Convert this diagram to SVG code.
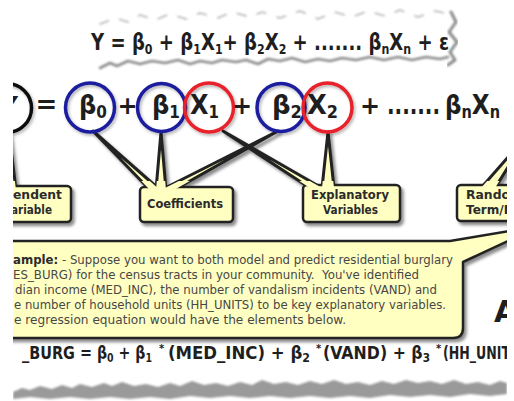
<svg xmlns="http://www.w3.org/2000/svg" width="514" height="401" viewBox="0 0 514 401">
<defs>
  <clipPath id="frame"><rect x="13" y="0" width="494" height="401"/></clipPath>
  <clipPath id="baseclip"><rect x="0" y="181" width="514" height="14"/></clipPath>
  <filter id="shadow" x="-10%" y="-20%" width="130%" height="150%">
    <feDropShadow dx="2.5" dy="3" stdDeviation="1.6" flood-color="#000" flood-opacity="0.45"/>
  </filter>
  <filter id="cshadow" x="-20%" y="-20%" width="150%" height="150%">
    <feDropShadow dx="1.5" dy="2" stdDeviation="1.5" flood-color="#000" flood-opacity="0.3"/>
  </filter>
  <filter id="blur" x="-5%" y="-50%" width="110%" height="200%"><feGaussianBlur stdDeviation="1"/></filter>
</defs>
<style>
  .eq{font-family:"DejaVu Sans",Verdana,sans-serif;font-weight:bold;fill:#1e1e1e}
  .s{font-size:14px}
  .lbl{font-family:"DejaVu Sans",Verdana,sans-serif;font-weight:bold;font-size:13px;fill:#2b2b2b}
  .body{font-family:"DejaVu Sans",Verdana,sans-serif;font-size:12px;fill:#474747}
  .box{fill:#ffffc2;stroke:#222;stroke-width:2.5}
  .wedge{fill:#ffffc2;stroke:#222;stroke-width:3;stroke-linejoin:round}
  .wfill{fill:#ffffc2;stroke:none}
  .blue{fill:none;stroke:#1d1d9e;stroke-width:3.5}
  .red{fill:none;stroke:#e8222a;stroke-width:3.5}
  .black{fill:none;stroke:#111;stroke-width:3.5}
  .torn{fill:none;stroke-linejoin:round;stroke-linecap:round}
</style>
<rect width="514" height="401" fill="#fff"/>
<g clip-path="url(#frame)">
  <!-- top torn strip -->
  <g id="top-strip">
    <path class="torn" filter="url(#blur)" stroke="#b5b5b5" stroke-width="1.6" stroke-dasharray="9 12" d="M100,24 L115,18 L128,22 L140,15 L155,20 L170,14 L186,19 L200,13 L218,18 L232,12 L250,17 L262,12 L280,18 L300,11 L318,19 L335,12 L352,17 L368,11 L385,16 L400,10 L418,17 L435,11 L450,14"/>
    <path class="torn" filter="url(#blur)" stroke="#8a8a8a" stroke-width="3" d="M451,12 L456,22 L449,32 L457,42 L450,52 L455,60 L448,65"/>
    <path class="torn" filter="url(#blur)" stroke="#8c8c8c" stroke-width="2.6" d="M100,68 L110,63 L117,66 L128,61 L140,64 L152,61 L165,63 L178,60 L190,64 L200,61 L212,63 L222,60 L236,62 L246,60 L258,64 L268,59 L280,61 L292,58 L305,62 L318,59 L330,61 L342,58 L356,60 L370,57 L384,60 L398,57 L412,60 L426,57 L440,59 L448,57"/>
    <text class="eq" x="91" y="50" font-size="23" textLength="358" lengthAdjust="spacingAndGlyphs">Y = β<tspan class="s" dy="4">0</tspan><tspan dy="-4"> + β</tspan><tspan class="s" dy="4">1</tspan><tspan dy="-4">X</tspan><tspan class="s" dy="4">1</tspan><tspan dy="-4">+ β</tspan><tspan class="s" dy="4">2</tspan><tspan dy="-4">X</tspan><tspan class="s" dy="4">2</tspan><tspan dy="-4"> + ....... β</tspan><tspan class="s" dy="4">n</tspan><tspan dy="-4">X</tspan><tspan class="s" dy="4">n</tspan><tspan dy="-4"> + ε</tspan></text>
  </g>

  <!-- connectors (callout pointers) -->
  <g id="connectors" filter="url(#shadow)">
    <polygon class="wedge" points="9,133 0,190 16,190"/>
    <polygon class="wedge" points="93,131 150,190 160,190"/>
    <polygon class="wedge" points="161,132 156,190 166,190"/>
    <polygon class="wedge" points="278,131 161,190 174,190"/>
    <polygon class="wedge" points="223,131 310,188 322,188"/>
    <polygon class="wedge" points="328,132 322,188 334,188"/>
    <polygon class="wedge" points="481,188 495,188 530,132"/>
  </g>

  <!-- equation row -->
  <g id="node-Y">
    <circle class="black" cx="7" cy="108" r="24.5" filter="url(#cshadow)"/>
    <text class="eq" x="7" y="118" font-size="30" text-anchor="middle">Y</text>
  </g>
  <text class="eq" x="46.5" y="113" font-size="26" text-anchor="middle">=</text>
  <g id="node-b0">
    <circle class="blue" cx="90" cy="107.5" r="24.5" filter="url(#cshadow)"/>
    <text class="eq" x="79" y="114" font-size="27" textLength="28" lengthAdjust="spacingAndGlyphs">β<tspan font-size="17" dy="4">0</tspan></text>
  </g>
  <text class="eq" x="127.5" y="114" font-size="24" text-anchor="middle">+</text>
  <g id="node-b1">
    <circle class="blue" cx="161.5" cy="107.5" r="24" filter="url(#cshadow)"/>
    <text class="eq" x="152" y="114" font-size="27" textLength="28" lengthAdjust="spacingAndGlyphs">β<tspan font-size="17" dy="4">1</tspan></text>
  </g>
  <g id="node-x1">
    <circle class="red" cx="209" cy="107.5" r="24.5" filter="url(#cshadow)"/>
    <text class="eq" x="190" y="114" font-size="27" textLength="29" lengthAdjust="spacingAndGlyphs">X<tspan font-size="17" dy="4">1</tspan></text>
  </g>
  <text class="eq" x="242" y="114" font-size="24" text-anchor="middle">+</text>
  <g id="node-b2">
    <circle class="blue" cx="281" cy="107.5" r="24" filter="url(#cshadow)"/>
    <text class="eq" x="272" y="114" font-size="27" textLength="30" lengthAdjust="spacingAndGlyphs">β<tspan font-size="17" dy="4">2</tspan></text>
  </g>
  <g id="node-x2">
    <circle class="red" cx="327.5" cy="107.5" r="24.5" filter="url(#cshadow)"/>
    <text class="eq" x="307" y="114" font-size="27" textLength="31" lengthAdjust="spacingAndGlyphs">X<tspan font-size="17" dy="4">2</tspan></text>
  </g>
  <text class="eq" x="370" y="114" font-size="24" text-anchor="middle">+</text>
  <text class="eq" x="387" y="114" font-size="27" textLength="53" lengthAdjust="spacingAndGlyphs">.......</text>
  <text class="eq" x="445" y="114" font-size="27" textLength="55" lengthAdjust="spacingAndGlyphs">β<tspan font-size="17" dy="4">n</tspan><tspan dy="-4">X</tspan><tspan font-size="17" dy="4">n</tspan></text>

  <!-- callout boxes -->
  <g id="node-dependent">
    <rect class="box" x="-10" y="186" width="81" height="36" rx="4" filter="url(#shadow)"/>
    <polygon class="wfill" clip-path="url(#baseclip)" points="9,133 0,190 16,190"/>
    <text class="lbl" x="13" y="199" textLength="49" lengthAdjust="spacingAndGlyphs">endent</text>
    <text class="lbl" x="11" y="214" textLength="41" lengthAdjust="spacingAndGlyphs">ariable</text>
  </g>
  <g id="node-coefficients">
    <rect class="box" x="140" y="187" width="93" height="35" rx="4" filter="url(#shadow)"/>
    <g clip-path="url(#baseclip)">
      <polygon class="wfill" points="93,131 150,190 160,190"/>
      <polygon class="wfill" points="161,132 156,190 166,190"/>
      <polygon class="wfill" points="278,131 161,190 174,190"/>
    </g>
    <text class="lbl" x="147" y="208" textLength="76" lengthAdjust="spacingAndGlyphs">Coefficients</text>
  </g>
  <g id="node-explanatory">
    <rect class="box" x="303" y="185" width="97" height="37" rx="4" filter="url(#shadow)"/>
    <g clip-path="url(#baseclip)">
      <polygon class="wfill" points="223,131 310,188 322,188"/>
      <polygon class="wfill" points="328,132 322,188 334,188"/>
    </g>
    <text class="lbl" x="311" y="199" textLength="78" lengthAdjust="spacingAndGlyphs">Explanatory</text>
    <text class="lbl" x="323" y="214" textLength="55" lengthAdjust="spacingAndGlyphs">Variables</text>
  </g>
  <g id="node-random">
    <rect class="box" x="457" y="185" width="80" height="36" rx="4" filter="url(#shadow)"/>
    <polygon class="wfill" clip-path="url(#baseclip)" points="481,188 495,188 530,132"/>
    <text class="lbl" x="466" y="199" textLength="44" lengthAdjust="spacingAndGlyphs">Rando</text>
    <text class="lbl" x="466" y="214" textLength="46" lengthAdjust="spacingAndGlyphs">Term/F</text>
  </g>

  <!-- example callout -->
  <g id="node-example">
    <path d="M0,241 H450 L540,226 L463,262 V328 Q463,338 453,338 H0 Z" fill="#ffffc2" stroke="#222" stroke-width="2.5" stroke-linejoin="round" filter="url(#shadow)"/>
    <text class="body" x="13" y="264" textLength="440" lengthAdjust="spacingAndGlyphs"><tspan font-weight="bold" fill="#2b2b2b">ample:</tspan> - Suppose you want to both model and predict residential burglary</text>
    <text class="body" x="13" y="279" textLength="406" lengthAdjust="spacingAndGlyphs">ES_BURG) for the census tracts in your community.&#160; You've identified</text>
    <text class="body" x="15" y="294" textLength="422" lengthAdjust="spacingAndGlyphs">dian income (MED_INC), the number of vandalism incidents (VAND) and</text>
    <text class="body" x="14" y="309" textLength="432" lengthAdjust="spacingAndGlyphs">e number of household units (HH_UNITS) to be key explanatory variables.</text>
    <text class="body" x="14" y="324" textLength="332" lengthAdjust="spacingAndGlyphs">e regression equation would have the elements below.</text>
  </g>
  <text class="eq" x="494" y="322" font-size="30" fill="#111">A</text>

  <!-- bottom equation -->
  <g id="bottom-equation" class="eq" font-size="18">
    <text x="22" y="359" textLength="70" lengthAdjust="spacingAndGlyphs">_BURG =</text>
    <text x="97" y="359" textLength="55" lengthAdjust="spacingAndGlyphs">β<tspan font-size="12" dy="3">0</tspan><tspan dy="-3"> + β</tspan><tspan font-size="12" dy="3">1</tspan></text>
    <text x="159" y="352" font-size="10">*</text>
    <text x="168" y="359" textLength="142" lengthAdjust="spacingAndGlyphs">(MED_INC) + β<tspan font-size="12" dy="3">2</tspan></text>
    <text x="316" y="352" font-size="10">*</text>
    <text x="323" y="359" textLength="107" lengthAdjust="spacingAndGlyphs">(VAND) + β<tspan font-size="12" dy="3">3</tspan></text>
    <text x="436" y="352" font-size="10">*</text>
    <text x="443" y="359" textLength="67" lengthAdjust="spacingAndGlyphs">(HH_UNIT</text>
  </g>

  <!-- bottom torn edge -->
  <path filter="url(#blur)" fill="#9a9a9a" d="M13,392 L22,388 L30,390 L40,386 L52,389 L62,385 L72,388 L80,384 L92,387 L104,383 L112,386 L122,382 L134,386 L146,384 L158,387 L170,383 L180,386 L192,381 L204,385 L216,383 L228,386 L240,382 L252,385 L262,380 L274,384 L286,382 L298,385 L310,381 L322,384 L334,380 L346,384 L358,382 L370,385 L382,381 L394,384 L406,380 L418,383 L430,381 L442,384 L454,380 L466,384 L478,382 L490,385 L500,381 L507,383 L507,394 L490,396 L470,394 L450,397 L430,395 L410,397 L390,395 L370,398 L350,396 L330,398 L310,396 L290,398 L270,396 L250,398 L230,396 L210,398 L190,396 L170,399 L150,397 L130,399 L110,397 L90,399 L70,397 L50,399 L30,397 L13,399 Z"/>
</g>
</svg>
